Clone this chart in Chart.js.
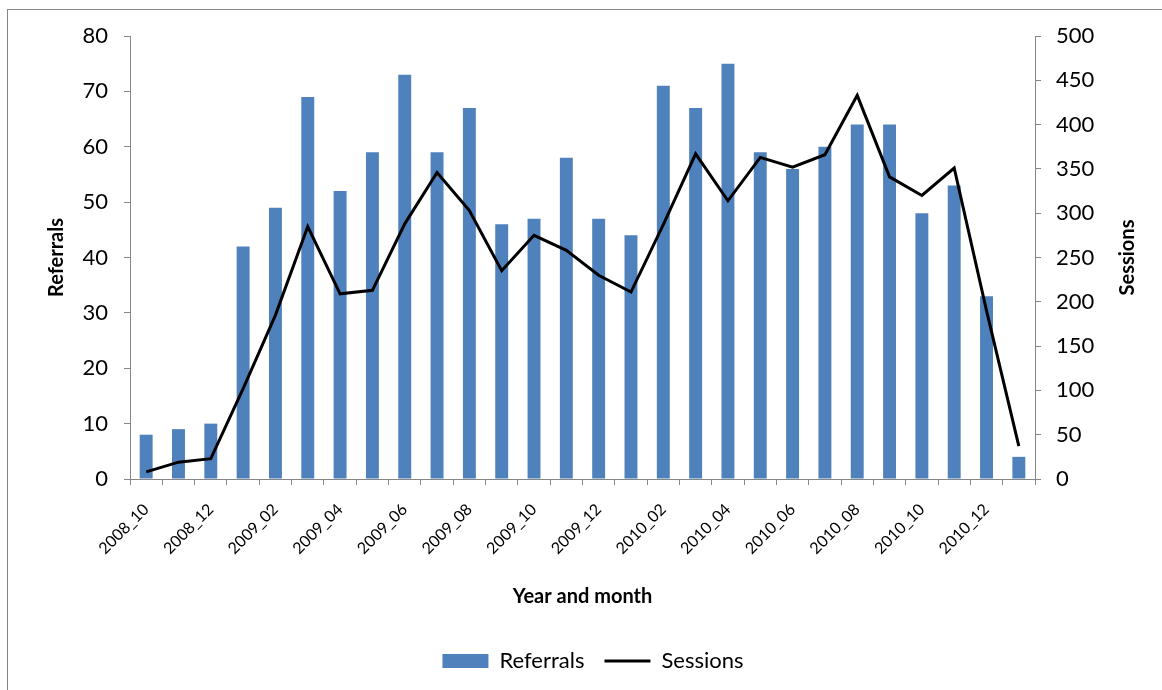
<!DOCTYPE html>
<html>
<head>
<meta charset="utf-8">
<script src="https://cdn.jsdelivr.net/npm/chart.js@4.4.1/dist/chart.umd.min.js"></script>
<style>
    html, body { margin: 0; padding: 0; background: #fff; }
    #wrap { width: 1162px; height: 690px; position: relative; }
</style>
</head>
<body>
<div id="wrap"><canvas id="referralChart"></canvas></div>
<script>
// Monthly referrals (bars, left axis) and sessions (line, right axis)
const months = [
    '2008_10', '2008_11', '2008_12',
    '2009_01', '2009_02', '2009_03', '2009_04', '2009_05', '2009_06',
    '2009_07', '2009_08', '2009_09', '2009_10', '2009_11', '2009_12',
    '2010_01', '2010_02', '2010_03', '2010_04', '2010_05', '2010_06',
    '2010_07', '2010_08', '2010_09', '2010_10', '2010_11', '2010_12',
    '2011_01'
];
const referrals = [8, 9, 10, 42, 49, 69, 52, 59, 73, 59, 67, 46, 47, 58, 47, 44, 71, 67, 75, 59, 56, 60, 64, 64, 48, 53, 33, 4];
const sessions = [8, 19, 23, 102, 185, 285, 209, 213, 288, 346, 303, 235, 275, 258, 230, 211, 287, 367, 314, 363, 352, 366, 433, 341, 320, 351, 190, 37];

const axisGrey = '#868686';
Chart.defaults.font.family = 'Lato, "Noto Sans", sans-serif';
Chart.defaults.color = '#000';

// thin grey frame round the chart, like the spreadsheet chart box
const frame = {
    id: 'frame',
    beforeDraw(chart) {
        const c = chart.ctx;
        c.save();
        c.strokeStyle = axisGrey;
        c.lineWidth = 1;
        c.strokeRect(7.5, 9.5, 1300, 800);
        c.restore();
    }
};

// right axis title reads bottom-to-top, Chart.js would rotate it the other way
const sessionsTitle = {
    id: 'sessionsTitle',
    afterDraw(chart) {
        const s = chart.scales.y2;
        const c = chart.ctx;
        c.save();
        c.translate(s.right - 34, (chart.chartArea.top + chart.chartArea.bottom) / 2);
        c.rotate(-Math.PI / 2);
        c.font = 'bold 20px Lato, "Noto Sans", sans-serif';
        c.fillStyle = '#000';
        c.textAlign = 'center';
        c.textBaseline = 'middle';
        c.fillText('Sessions', 0, 0);
        c.restore();
    }
};

const ctx = document.getElementById('referralChart').getContext('2d');
new Chart(ctx, {
    type: 'bar',
    data: {
        labels: months,
        datasets: [
            {
                label: 'Referrals',
                data: referrals,
                backgroundColor: '#4F81BD',
                borderWidth: 0,
                barPercentage: 0.4,
                categoryPercentage: 1.0,
                yAxisID: 'y',
                order: 2
            },
            {
                type: 'line',
                label: 'Sessions',
                data: sessions,
                borderColor: '#000',
                backgroundColor: '#000',
                borderWidth: 3,
                pointRadius: 0,
                tension: 0,
                fill: false,
                yAxisID: 'y2',
                order: 1
            }
        ]
    },
    options: {
        responsive: true,
        maintainAspectRatio: false,
        animation: false,
        layout: {
            padding: { left: 24, top: 36, right: 0, bottom: 8 }
        },
        plugins: {
            tooltip: { enabled: false },
            legend: {
                position: 'bottom',
                labels: {
                    usePointStyle: true,
                    pointStyleWidth: 46,
                    boxHeight: 14,
                    padding: 20,
                    font: { size: 22 },
                    sort: (a, b) => a.datasetIndex - b.datasetIndex,
                    generateLabels(chart) {
                        const items = Chart.defaults.plugins.legend.labels.generateLabels(chart);
                        items.forEach(it => { it.pointStyle = it.datasetIndex === 0 ? 'rect' : 'line'; });
                        return items;
                    }
                }
            }
        },
        scales: {
            x: {
                grid: { drawOnChartArea: false, drawTicks: true, tickLength: 6, color: axisGrey, offset: true },
                border: { color: axisGrey },
                ticks: {
                    autoSkip: false,
                    minRotation: 45,
                    maxRotation: 45,
                    padding: 15,
                    font: { size: 16 },
                    callback: (v, i) => (i % 2 === 0 ? months[i] : '')
                },
                title: {
                    display: true,
                    text: 'Year and month',
                    font: { size: 20, weight: 'bold' },
                    padding: { top: 0, bottom: 21 }
                },
                afterFit(scale) { scale.height = 151; }
            },
            y: {
                position: 'left',
                min: 0,
                max: 80,
                ticks: { stepSize: 10, font: { size: 22 }, padding: 16 },
                grid: { drawOnChartArea: false, tickLength: 6, color: axisGrey },
                border: { color: axisGrey },
                title: {
                    display: true,
                    text: 'Referrals',
                    font: { size: 20, weight: 'bold' },
                    padding: { top: 21, bottom: 0 }
                },
                afterFit(scale) { scale.width = 106; }
            },
            y2: {
                position: 'right',
                min: 0,
                max: 500,
                ticks: { stepSize: 50, font: { size: 22 }, padding: 15 },
                grid: { drawOnChartArea: false, tickLength: 6, color: axisGrey },
                border: { color: axisGrey },
                afterFit(scale) { scale.width = 127; }
            }
        }
    },
    plugins: [frame, sessionsTitle]
});
</script>
</body>
</html>
